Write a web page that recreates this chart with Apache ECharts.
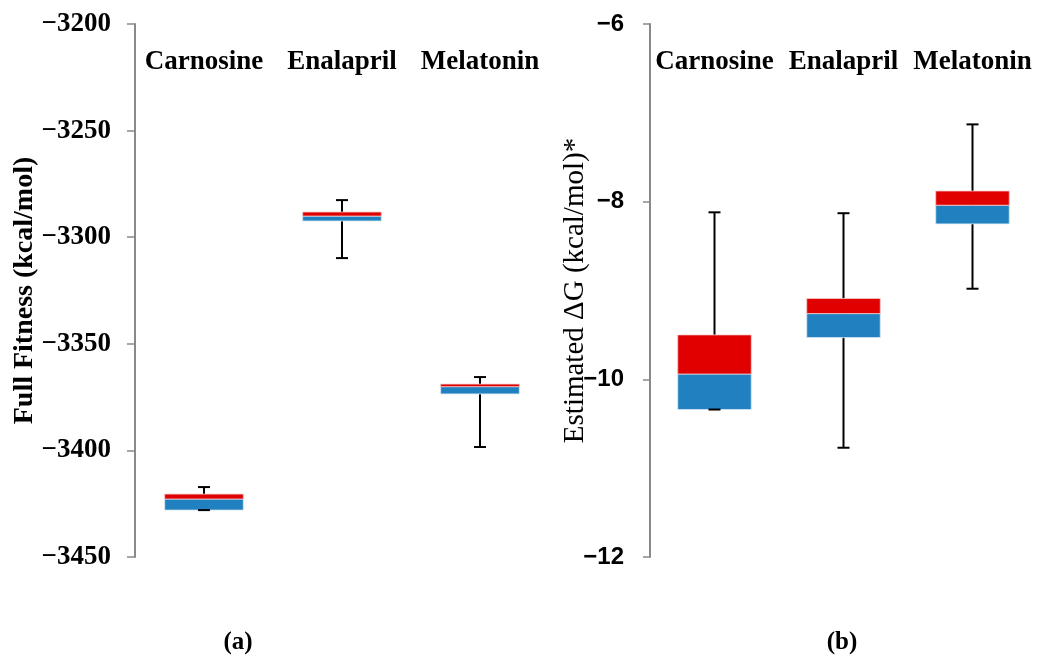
<!DOCTYPE html>
<html>
<head>
<meta charset="utf-8">
<script src="https://cdn.jsdelivr.net/npm/echarts@6/dist/echarts.min.js"></script>
<style>html,body{margin:0;padding:0;background:#fff}#c{width:1037px;height:657px}</style>
</head>
<body>
<div id="c"></div>
<script>
// ---- data ----
const categories = ['Carnosine', 'Enalapril', 'Melatonin'];
// (a) Full Fitness (kcal/mol)
const fitMin    = [-3428.0, -3309.8, -3398.4];
const fitQ1     = [-3428.0, -3292.4, -3373.5];
const fitMedian = [-3422.8, -3290.1, -3370.1];
const fitQ3     = [-3420.5, -3288.2, -3368.9];
const fitMax    = [-3417.2, -3282.6, -3365.6];
const fitTicks  = [-3450, -3400, -3350, -3300, -3250, -3200];
// (b) Estimated ΔG (kcal/mol)*
const dgMin    = [-10.34, -10.77, -8.98];
const dgQ1     = [-10.34, -9.53, -8.25];
const dgMedian = [-9.94, -9.26, -8.04];
const dgQ3     = [-9.50, -9.09, -7.88];
const dgMax    = [-8.12, -8.13, -7.13];
const dgTicks  = [-12, -10, -8, -6];

function rows(mn, q1, md, q3, mx) {
  return categories.map((c, i) => [i, mn[i], q1[i], md[i], q3[i], mx[i]]);
}

const RED = '#e00000', BLUE = '#2080c0';
function renderItem(params, api) {
  const i = api.value(0);
  const pMin = api.coord([i, api.value(1)]);
  const pQ1 = api.coord([i, api.value(2)]);
  const pMd = api.coord([i, api.value(3)]);
  const pQ3 = api.coord([i, api.value(4)]);
  const pMax = api.coord([i, api.value(5)]);
  const band = api.size([1, 0])[0];
  const bw = band * 0.57;
  const cx = pMd[0];
  const cap = 6;
  const ls = {stroke: '#000', lineWidth: 2};
  return {
    type: 'group',
    children: [
      {type: 'line', shape: {x1: cx, y1: pMax[1], x2: cx, y2: pMin[1]}, style: ls},
      {type: 'rect', shape: {x: cx - bw / 2, y: pMd[1], width: bw, height: pQ1[1] - pMd[1]},
        style: {fill: BLUE, stroke: '#dbe8f4', lineWidth: 0.8}},
      {type: 'rect', shape: {x: cx - bw / 2, y: pQ3[1], width: bw, height: pMd[1] - pQ3[1]},
        style: {fill: RED, stroke: '#f3c9c9', lineWidth: 0.8}},
      {type: 'line', shape: {x1: cx - cap, y1: pMax[1], x2: cx + cap, y2: pMax[1]}, style: ls},
      {type: 'line', shape: {x1: cx - cap, y1: pMin[1], x2: cx + cap, y2: pMin[1]}, style: ls}
    ]
  };
}

const serif = "'Liberation Serif', 'DejaVu Serif', serif";
const sans = "'Liberation Sans', 'Open Sans', sans-serif";
const minus = v => String(v).replace('-', '\u2212');

function xAxis(gi) {
  return {
    type: 'category', gridIndex: gi, data: categories, position: 'top',
    axisLine: {show: false}, axisTick: {show: false}, splitLine: {show: false},
    axisLabel: {inside: true, interval: 0, hideOverlap: false, margin: 25,
      fontFamily: serif, fontWeight: 'bold', fontSize: 27, color: '#000'}
  };
}

const chart = echarts.init(document.getElementById('c'), null, {renderer: 'canvas'});
chart.setOption({
  animation: false,
  backgroundColor: '#fff',
  grid: [
    {left: 135, top: 24, width: 414, height: 533},
    {left: 650, top: 24, width: 387, height: 533}
  ],
  xAxis: [xAxis(0), xAxis(1)],
  yAxis: [
    {
      type: 'value', gridIndex: 0, min: fitTicks[0], max: fitTicks[fitTicks.length - 1], interval: 50,
      axisLine: {show: true, lineStyle: {color: '#898989', width: 2}},
      axisTick: {show: true, length: 8, lineStyle: {color: '#898989', width: 1.5}},
      splitLine: {show: false},
      axisLabel: {formatter: minus, margin: 24, fontFamily: serif, fontWeight: 'bold', fontSize: 27, color: '#000'},
      name: 'Full Fitness (kcal/mol)', nameLocation: 'middle', nameGap: 96, nameMoveOverlap: false,
      nameTextStyle: {fontFamily: serif, fontWeight: 'bold', fontSize: 28, color: '#000'}
    },
    {
      type: 'value', gridIndex: 1, min: dgTicks[0], max: dgTicks[dgTicks.length - 1], interval: 2,
      axisLine: {show: true, lineStyle: {color: '#898989', width: 2}},
      axisTick: {show: true, length: 7, lineStyle: {color: '#898989', width: 1.5}},
      splitLine: {show: false},
      axisLabel: {formatter: minus, margin: 26, fontFamily: sans, fontWeight: 'bold', fontSize: 24, color: '#000'},
      name: 'Estimated \u0394G (kcal/mol)*', nameLocation: 'middle', nameGap: 60, nameMoveOverlap: false,
      nameTextStyle: {fontFamily: serif, fontWeight: 'normal', fontSize: 29, color: '#000'}
    }
  ],
  title: [
    {text: '{p|(}{b|a}{p|)}', left: 233, top: 625, textAlign: 'center',
      textStyle: {rich: {p: {fontFamily: serif, fontSize: 25, color: '#000'}, b: {fontFamily: serif, fontSize: 25, fontWeight: 'bold', color: '#000'}}}},
    {text: '{p|(}{b|b}{p|)}', left: 837, top: 625, textAlign: 'center',
      textStyle: {rich: {p: {fontFamily: serif, fontSize: 25, color: '#000'}, b: {fontFamily: serif, fontSize: 25, fontWeight: 'bold', color: '#000'}}}}
  ],
  series: [
    {type: 'custom', xAxisIndex: 0, yAxisIndex: 0, renderItem, encode: {x: 0, y: [1, 2, 3, 4, 5]},
      data: rows(fitMin, fitQ1, fitMedian, fitQ3, fitMax)},
    {type: 'custom', xAxisIndex: 1, yAxisIndex: 1, renderItem, encode: {x: 0, y: [1, 2, 3, 4, 5]},
      data: rows(dgMin, dgQ1, dgMedian, dgQ3, dgMax)}
  ]
});
</script>
</body>
</html>
